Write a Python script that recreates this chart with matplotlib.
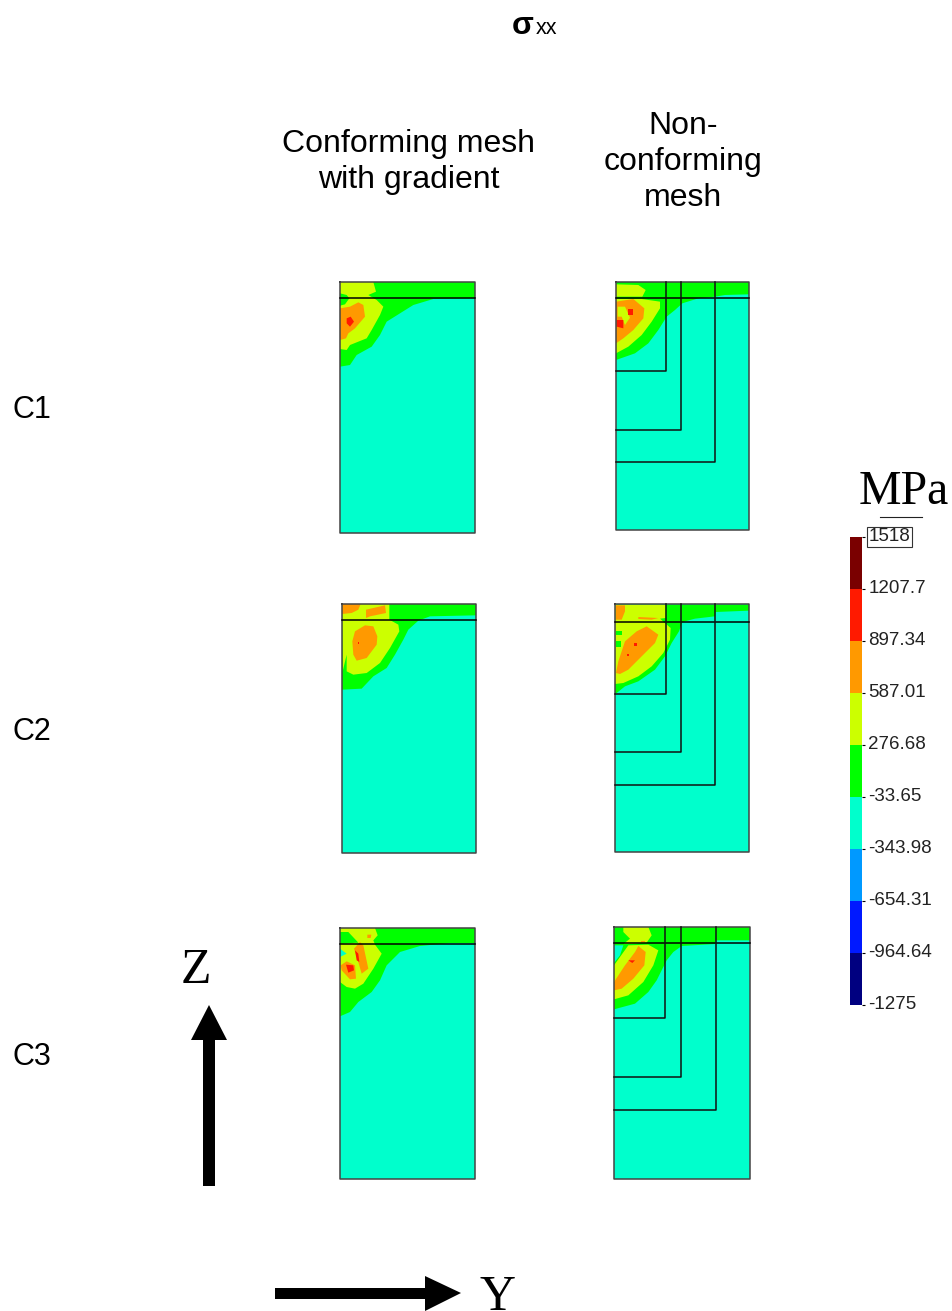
import matplotlib
matplotlib.use("Agg")
import matplotlib.pyplot as plt
from matplotlib.transforms import ScaledTranslation

levels = [1518, 1207.7, 897.34, 587.01, 276.68, -33.65, -343.98, -654.31, -964.64, -1275]
level_labels = ["1518", "1207.7", "897.34", "587.01", "276.68", "-33.65", "-343.98", "-654.31", "-964.64", "-1275"]
level_colors = ["#7a0000", "#ff1a00", "#ff9900", "#ccff00", "#00ff00", "#00ffcc", "#0099ff", "#0019ff", "#000080"]

RED = level_colors[1]
ORANGE = level_colors[2]
YELLOW = level_colors[3]
GREEN = level_colors[4]
CYAN = level_colors[5]

row_labels = ["C1", "C2", "C3"]
row_label_y = [410, 732, 1057]

# contour outlines at 3x, relative to each panel's crop corner
c1_left = [
    (GREEN, [(30,21),(435,21),(435,70),(310,72),(250,90),(210,115),(170,140),(150,180),(125,215),(80,240),(60,270),(30,275)]),
    (YELLOW, [(30,21),(130,21),(138,50),(115,60),(140,75),(160,95),(150,120),(125,165),(110,190),(60,210),(50,225),(30,222)]),
    (GREEN, [(30,55),(50,60),(58,70),(45,88),(30,92)]),
    (ORANGE, [(30,100),(60,95),(85,82),(100,90),(105,125),(75,160),(55,175),(48,190),(30,195)]),
    (RED, [(50,130),(62,125),(72,140),(60,155),(50,145)]),
]
c1_right = [
    (GREEN, [(33,21),(432,21),(432,58),(360,60),(330,65),(280,70),(232,85),(210,105),(185,125),(160,165),(130,205),(90,235),(33,255)]),
    (YELLOW, [(33,28),(100,30),(122,45),(112,65),(33,65)]),
    (YELLOW, [(33,72),(110,72),(165,80),(165,100),(140,140),(110,180),(70,215),(33,235)]),
    (ORANGE, [(33,80),(85,72),(118,100),(115,130),(85,165),(55,190),(33,205)]),
    (YELLOW, [(38,95),(60,95),(75,128),(60,150),(50,125),(38,125)]),
    (RED, [(35,135),(55,135),(55,160),(35,155)]),
    (RED, [(68,102),(85,102),(85,120),(68,120)]),
]
c2_left = [
    (GREEN, [(36,18),(438,18),(438,52),(300,55),(265,68),(235,95),(220,125),(195,170),(170,210),(130,235),(95,272),(36,275)]),
    (YELLOW, [(36,18),(178,18),(178,65),(205,80),(208,100),(180,150),(150,195),(110,225),(70,230),(50,220),(50,170),(38,220)]),
    (ORANGE, [(36,18),(92,18),(85,35),(65,45),(36,48)]),
    (ORANGE, [(108,35),(165,22),(168,45),(120,55),(108,60)]),
    (ORANGE, [(75,100),(105,82),(130,85),(142,115),(140,140),(110,180),(80,188),(70,170),(67,130)]),
    (RED, [(84,132),(88,132),(88,138),(84,138)]),
]
c2_right = [
    (GREEN, [(30,20),(432,20),(432,38),(332,42),(330,55),(270,62),(232,72),(222,100),(200,135),(180,175),(150,215),(100,250),(60,265),(35,285),(30,285)]),
    (YELLOW, [(30,20),(182,20),(182,60),(165,62),(197,90),(195,125),(175,165),(140,205),(100,235),(55,255),(30,258)]),
    (ORANGE, [(33,22),(60,22),(60,40),(50,65),(33,65)]),
    (ORANGE, [(100,57),(160,60),(140,65),(100,63)]),
    (ORANGE, [(125,85),(160,110),(150,135),(110,175),(70,215),(45,228),(33,225),(40,190),(60,130),(95,100)]),
    (GREEN, [(33,98),(50,98),(50,110),(33,110)]),
    (GREEN, [(33,130),(47,130),(47,148),(33,148)]),
    (RED, [(88,135),(97,135),(97,144),(88,144)]),
    (RED, [(66,168),(72,168),(72,174),(66,174)]),
]
c3_left = [
    (GREEN, [(30,18),(435,18),(435,63),(360,63),(270,72),(210,90),(170,130),(150,175),(125,210),(85,240),(60,270),(30,283)]),
    (YELLOW, [(30,18),(135,18),(143,40),(130,55),(135,68),(155,95),(130,140),(100,185),(75,200),(50,195),(30,180)]),
    (GREEN, [(30,30),(55,30),(85,62),(30,65)]),
    (CYAN, [(30,80),(50,95),(30,105)]),
    (ORANGE, [(72,80),(90,60),(100,70),(115,140),(95,155),(82,110)]),
    (ORANGE, [(32,130),(50,118),(75,130),(78,170),(60,172),(35,145)]),
    (RED, [(48,128),(70,130),(72,145),(55,152)]),
    (RED, [(75,85),(85,95),(88,120),(80,115)]),
    (ORANGE, [(112,38),(124,38),(122,48),(112,48)]),
]
c3_right = [
    (GREEN, [(27,15),(435,15),(435,55),(333,55),(330,66),(230,72),(205,90),(185,115),(155,175),(130,210),(90,245),(27,262)]),
    (YELLOW, [(55,30),(55,15),(130,15),(140,40),(125,62),(80,66),(55,66),(75,50)]),
    (YELLOW, [(27,130),(70,70),(130,68),(160,85),(145,130),(115,180),(70,220),(27,232)]),
    (CYAN, [(27,70),(55,70),(45,100),(27,123)]),
    (ORANGE, [(27,180),(60,130),(90,90),(100,72),(122,90),(118,130),(85,170),(50,200),(27,205)]),
    (RED, [(70,115),(90,115),(82,123)]),
    (ORANGE, [(108,57),(120,57),(120,60),(108,60)]),
]

# panel: crop corner, box (left, right, top, bottom), line under the top layer, refinement steps
panels = [
    (c1_left, (330,275), (340,475,282,533), 298, []),
    (c1_right, (605,275), (616,749,282,530), 298, [(666,371),(681,430),(715,462)]),
    (c2_left, (330,598), (342,476,604,853), 620, []),
    (c2_right, (605,598), (615,749,604,852), 622, [(666,694),(681,752),(715,785)]),
    (c3_left, (330,922), (340,475,928,1179), 944, []),
    (c3_right, (605,922), (614,750,927,1179), 943, [(665,1018),(681,1077),(716,1110)]),
]

fig = plt.figure(figsize=(9.52, 13.11), dpi=100)
ax = fig.add_axes([0, 0, 1, 1])
ax.set_xlim(0, 952)
ax.set_ylim(1311, 0)
ax.axis("off")

SANS = "Liberation Sans"
SERIF = "Liberation Serif"

for layers, (ox, oy), (l, r, t, b), line_y, steps in panels:
    ax.fill([l, r, r, l], [t, t, b, b], color=CYAN, lw=0)
    for color, poly in layers:
        ax.fill([ox + p[0] / 3 for p in poly], [oy + p[1] / 3 for p in poly], color=color, lw=0)
    ax.plot([l, r, r, l, l], [t, t, b, b, t], color="#444444", lw=1.1)
    ax.plot([l, r], [line_y, line_y], color="black", lw=1.1)
    for sx, sy in steps:
        ax.plot([l, sx, sx], [sy, sy, t], color="#111111", lw=1.1)

ax.text(512, 26, "σ", family=SANS, weight="bold", fontsize=23, ha="left", va="center")
ax.text(536, 28, "xx", family=SANS, fontsize=15.5, ha="left", va="center")

ax.text(409, 162, "Conforming mesh\nwith gradient", family=SANS, fontsize=23, ha="center", va="center", linespacing=1.27)
ax.text(683, 162, "Non-\nconforming\nmesh", family=SANS, fontsize=23, ha="center", va="center", linespacing=1.27)

for name, y in zip(row_labels, row_label_y):
    ax.text(13, y, name, family=SANS, fontsize=22, ha="left", va="center")

# axis arrows
ax.fill([203, 215, 215, 227, 209, 191, 203], [1186, 1186, 1040, 1040, 1005, 1040, 1040], color="black", lw=0)
ax.fill([275, 425, 425, 461, 425, 425, 275], [1288, 1288, 1276, 1293, 1311, 1299, 1299], color="black", lw=0)
ax.text(196, 983, "Z", family=SERIF, fontsize=36, ha="center", va="baseline")
ax.text(497, 1310, "Y", family=SERIF, fontsize=36, ha="center", va="baseline")

ax.text(904, 504, "MPa", family=SERIF, fontsize=34.5, ha="center", va="baseline")
ax.plot([880, 922], [517, 517], color="#222222", lw=0.8)

# colour bar
cax = fig.add_axes([850 / 952, 1 - 1005 / 1311, 12 / 952, (1005 - 537) / 1311])
cax.set_ylim(levels[-1], levels[0])
cax.set_xlim(0, 1)
for i, color in enumerate(level_colors):
    cax.bar(0.5, levels[i] - levels[i + 1], bottom=levels[i + 1], width=1, color=color, lw=0)
cax.set_xticks([])
cax.set_yticks(levels)
cax.set_yticklabels(level_labels, family=SANS, fontsize=13.5, color="#222222")
cax.yaxis.tick_right()
cax.tick_params(axis="y", length=2, width=0.8, pad=2.5)
for side in cax.spines.values():
    side.set_visible(False)
up = ScaledTranslation(0, 2 / 100, fig.dpi_scale_trans)
for lab in cax.get_yticklabels():
    lab.set_transform(lab.get_transform() + up)
cax.get_yticklabels()[0].set_bbox(dict(facecolor="white", edgecolor="#333333", lw=0.8, pad=1.2))

fig.savefig("out.png", dpi=100)
